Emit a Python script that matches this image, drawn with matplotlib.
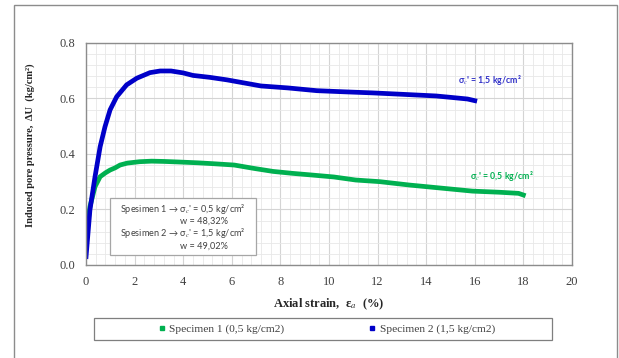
import matplotlib.pyplot as plt
from matplotlib.patches import Rectangle
from matplotlib.ticker import MultipleLocator

# Specimen 1 (sigma_c' = 0,5 kg/cm2)
strain_1 = [0.0, 0.16, 0.37, 0.58, 0.8, 0.99, 1.2, 1.4, 1.7, 2.2, 2.7, 3.2, 3.8,
            4.6, 5.2, 6.1, 6.9, 7.7, 8.5, 9.3, 10.2, 11.1, 12.1, 13.3, 14.6,
            15.9, 17.0, 17.8, 18.0]
du_1 = [0.10, 0.21, 0.282, 0.318, 0.332, 0.342, 0.35, 0.36, 0.367, 0.372, 0.374,
        0.373, 0.371, 0.368, 0.365, 0.36, 0.348, 0.337, 0.33, 0.324, 0.317, 0.306,
        0.30, 0.288, 0.277, 0.266, 0.262, 0.258, 0.252]

# Specimen 2 (sigma_c' = 1,5 kg/cm2)
strain_2 = [0.0, 0.16, 0.37, 0.58, 0.78, 0.99, 1.26, 1.67, 2.09, 2.63, 3.05, 3.5,
            4.0, 4.4, 5.1, 5.8, 6.5, 7.2, 8.3, 9.5, 10.6, 11.8, 13.0, 14.4, 15.0,
            15.7, 16.0]
du_2 = [0.03, 0.198, 0.318, 0.426, 0.498, 0.559, 0.606, 0.649, 0.673, 0.693, 0.699,
        0.699, 0.692, 0.683, 0.676, 0.667, 0.656, 0.645, 0.638, 0.628, 0.624, 0.62,
        0.615, 0.609, 0.604, 0.598, 0.592]

blue = '#0000c8'
green = '#00b050'

plt.rcParams['mathtext.fontset'] = 'stix'

fig = plt.figure(figsize=(6.19, 3.58), dpi=100)
ax = fig.add_axes([0.139, 0.26, 0.785, 0.62])

# outer frame of the chart area
fig.patches.append(Rectangle((14 / 619, -0.01), 603 / 619, 1 - 5 / 358 + 0.01,
                             transform=fig.transFigure, fill=False,
                             edgecolor='#8c8c8c', lw=1.0))

ax.plot(strain_1, du_1, color=green, lw=3.4, solid_joinstyle='miter',
        label='Specimen 1 (0,5 kg/cm2)')
ax.plot(strain_2, du_2, color=blue, lw=3.4, solid_joinstyle='miter',
        label='Specimen 2 (1,5 kg/cm2)')

ax.set_xlim(0, 20)
ax.set_ylim(0, 0.8)
ax.xaxis.set_major_locator(MultipleLocator(2))
ax.xaxis.set_minor_locator(MultipleLocator(0.4))
ax.yaxis.set_major_locator(MultipleLocator(0.2))
ax.yaxis.set_minor_locator(MultipleLocator(0.04))
ax.yaxis.set_major_formatter(plt.FuncFormatter(lambda v, p: f'{v:.1f}'))
ax.grid(which='major', color='#d4d4d4', lw=0.8)
ax.grid(which='minor', color='#e8e8e8', lw=0.6)
ax.set_axisbelow(True)
ax.tick_params(which='both', length=0, pad=8, labelsize=9, labelcolor='#404040')
for lab in ax.get_xticklabels() + ax.get_yticklabels():
    lab.set_family('Liberation Serif')
for s in ax.spines.values():
    s.set_color('#8c8c8c')
    s.set_linewidth(1.0)

ax.set_xlabel(r'Axial strain,  ε$_a$  (%)', family='Liberation Serif',
              fontweight='bold', fontsize=9, labelpad=6, color='#262626')
ax.set_ylabel('Induced pore pressure,  ΔU  (kg/cm²)', family='Liberation Serif',
              fontweight='bold', fontsize=7.6, color='#262626')
ax.yaxis.set_label_coords(-0.105, 0.54)

# curve annotations
ax.text(15.3, 0.665, "σ$_c$' = 1,5 kg/cm²", color='#3030c8', fontsize=6.3,
        family='Lato', fontweight='bold', va='center')
ax.text(15.8, 0.32, "σ$_c$' = 0,5 kg/cm²", color=green, fontsize=6.3,
        family='Lato', fontweight='bold', va='center')

# info box
ax.add_patch(Rectangle((0.99, 0.036), 6.0, 0.205, facecolor='white',
                       edgecolor='#a6a6a6', lw=0.9, zorder=5))
info_kw = dict(fontsize=6.6, family=['Lato', 'DejaVu Sans'], color='#404040',
               zorder=6, va='center')
ax.text(1.4, 0.20, "Spesimen 1 → σ$_c$' = 0,5 kg/cm²", **info_kw)
ax.text(3.87, 0.158, "w = 48,32%", **info_kw)
ax.text(1.4, 0.115, "Spesimen 2 → σ$_c$' = 1,5 kg/cm²", **info_kw)
ax.text(3.87, 0.068, "w = 49,02%", **info_kw)

# legend below
fig.patches.append(Rectangle((94 / 619, 18 / 358), 458 / 619, 22 / 358,
                             transform=fig.transFigure, fill=False,
                             edgecolor='#7f7f7f', lw=0.9))
handles = [plt.Line2D([], [], ls='none', marker='s', markersize=2.5, color=green),
           plt.Line2D([], [], ls='none', marker='s', markersize=2.5, color=blue)]
fig.legend(handles, ['Specimen 1 (0,5 kg/cm2)', 'Specimen 2 (1,5 kg/cm2)'],
           loc='center', bbox_to_anchor=(327 / 619, 29 / 358), ncol=2,
           frameon=False, handlelength=0.5, handletextpad=0.4, columnspacing=7.5,
           labelcolor='#404040', prop={'family': 'Liberation Serif', 'size': 8.2})

fig.savefig('out.png', dpi=100)
